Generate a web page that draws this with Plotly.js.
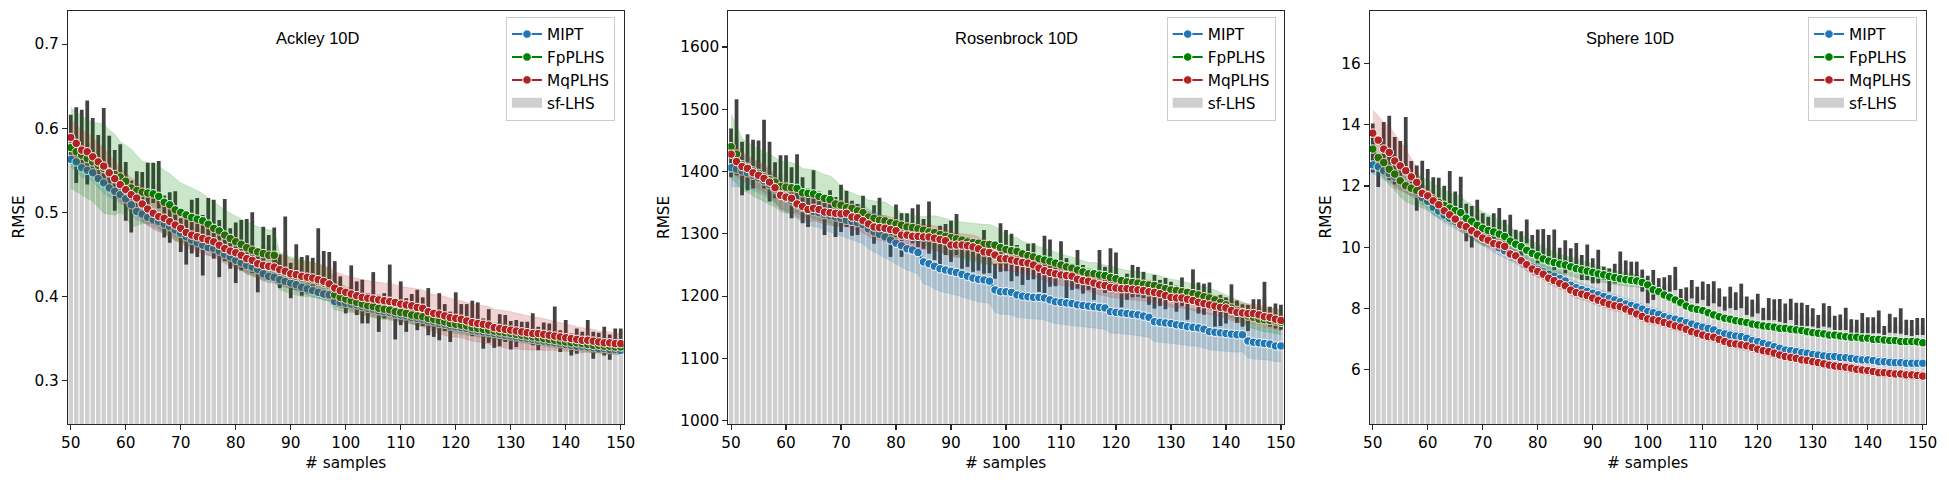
<!DOCTYPE html>
<html>
<head>
<meta charset="utf-8">
<script src="https://cdn.plot.ly/plotly-3.0.1.min.js"></script>
<style>html,body{margin:0;padding:0;background:#fff;}#chart{width:1949px;height:483px;}</style>
</head>
<body>
<div id="chart"></div>
<script>
// ---------------- categories / ticks ----------------
const samples = [50,51,52,53,54,55,56,57,58,59,60,61,62,63,64,65,66,67,68,69,70,71,72,73,74,75,76,77,78,79,80,81,82,83,84,85,86,87,88,89,90,91,92,93,94,95,96,97,98,99,100,101,102,103,104,105,106,107,108,109,110,111,112,113,114,115,116,117,118,119,120,121,122,123,124,125,126,127,128,129,130,131,132,133,134,135,136,137,138,139,140,141,142,143,144,145,146,147,148,149,150];
const xTicks = [50,60,70,80,90,100,110,120,130,140,150];
const ackleyTicks = [0.3,0.4,0.5,0.6,0.7];
const rosenTicks = [1000,1100,1200,1300,1400,1500,1600];
const sphereTicks = [6,8,10,12,14,16];
const panelTitles = ["Ackley 10D","Rosenbrock 10D","Sphere 10D"];
const seriesNames = ["MIPT","FpPLHS","MqPLHS"];
const barName = "sf-LHS";
const xLabel = "# samples";
const yLabel = "RMSE";

// ---------------- Ackley 10D ----------------
const ackLhsMean = [
0.588,0.580,0.590,0.583,0.581,0.567,0.581,0.559,0.538,0.554,
0.525,0.507,0.524,0.531,0.526,0.535,0.533,0.495,0.494,0.500,
0.473,0.470,0.483,0.482,0.461,0.487,0.480,0.457,0.479,0.457,
0.452,0.461,0.468,0.464,0.429,0.461,0.459,0.461,0.430,0.454,
0.419,0.435,0.424,0.426,0.429,0.450,0.436,0.435,0.428,0.407,
0.394,0.416,0.398,0.394,0.386,0.407,0.380,0.389,0.419,0.372,
0.392,0.378,0.388,0.384,0.382,0.382,0.366,0.376,0.375,0.364,
0.383,0.376,0.376,0.374,0.378,0.356,0.365,0.352,0.360,0.362,
0.354,0.356,0.358,0.358,0.361,0.350,0.357,0.355,0.368,0.347,
0.356,0.343,0.347,0.347,0.357,0.342,0.345,0.347,0.340,0.350,0.347];
const ackLhsErr = [
0.028,0.045,0.032,0.050,0.031,0.025,0.043,0.032,0.036,0.027,
0.035,0.031,0.025,0.017,0.033,0.024,0.028,0.025,0.030,0.025,
0.020,0.032,0.032,0.035,0.036,0.030,0.035,0.034,0.037,0.024,
0.036,0.030,0.024,0.036,0.024,0.022,0.014,0.021,0.020,0.041,
0.021,0.027,0.023,0.023,0.017,0.031,0.018,0.018,0.014,0.017,
0.014,0.021,0.020,0.026,0.018,0.022,0.022,0.015,0.019,0.023,
0.026,0.020,0.015,0.024,0.017,0.028,0.014,0.028,0.016,0.018,
0.022,0.015,0.015,0.021,0.015,0.018,0.020,0.013,0.019,0.016,
0.017,0.016,0.012,0.012,0.019,0.014,0.012,0.013,0.020,0.013,
0.016,0.013,0.015,0.011,0.015,0.016,0.012,0.017,0.015,0.012,0.015];
const ackMipt = [
0.563,0.560,0.553,0.550,0.547,0.540,0.535,0.529,0.525,0.521,
0.516,0.509,0.501,0.498,0.494,0.491,0.489,0.486,0.483,0.479,
0.475,0.471,0.467,0.464,0.461,0.458,0.457,0.454,0.450,0.447,
0.443,0.440,0.437,0.435,0.432,0.427,0.424,0.423,0.420,0.418,
0.416,0.414,0.411,0.409,0.407,0.405,0.403,0.402,0.394,0.393,
0.392,0.391,0.390,0.388,0.386,0.385,0.383,0.382,0.381,0.379,
0.378,0.377,0.375,0.374,0.373,0.371,0.370,0.368,0.367,0.365,
0.364,0.363,0.362,0.360,0.359,0.358,0.357,0.356,0.355,0.354,
0.353,0.352,0.351,0.350,0.349,0.348,0.347,0.346,0.345,0.344,
0.343,0.342,0.341,0.341,0.340,0.339,0.338,0.338,0.337,0.337,0.336];
const ackMiptBand = [
0.010,0.011,0.011,0.010,0.010,0.011,0.012,0.011,0.010,0.010,
0.010,0.011,0.010,0.010,0.009,0.009,0.010,0.010,0.009,0.009,
0.009,0.009,0.009,0.008,0.008,0.009,0.009,0.008,0.008,0.008,
0.008,0.008,0.008,0.008,0.008,0.008,0.008,0.007,0.007,0.007,
0.007,0.007,0.007,0.007,0.007,0.007,0.007,0.007,0.006,0.006,
0.006,0.006,0.006,0.006,0.006,0.006,0.006,0.006,0.006,0.006,
0.006,0.006,0.006,0.006,0.006,0.006,0.006,0.006,0.006,0.006,
0.006,0.006,0.006,0.006,0.006,0.005,0.005,0.005,0.005,0.005,
0.005,0.005,0.005,0.005,0.005,0.005,0.005,0.005,0.005,0.005,
0.005,0.005,0.005,0.005,0.005,0.005,0.005,0.005,0.005,0.005,0.005];
const ackFp = [
0.577,0.572,0.568,0.564,0.560,0.556,0.552,0.548,0.545,0.542,
0.537,0.529,0.526,0.524,0.523,0.522,0.519,0.512,0.509,0.503,
0.500,0.497,0.494,0.492,0.490,0.486,0.481,0.478,0.473,0.469,
0.465,0.462,0.458,0.455,0.453,0.451,0.449,0.449,0.430,0.428,
0.425,0.424,0.422,0.421,0.420,0.418,0.416,0.413,0.402,0.399,
0.397,0.395,0.393,0.391,0.389,0.388,0.386,0.385,0.384,0.382,
0.381,0.380,0.378,0.377,0.376,0.374,0.373,0.371,0.370,0.368,
0.367,0.366,0.365,0.363,0.362,0.361,0.360,0.359,0.358,0.357,
0.356,0.355,0.354,0.353,0.352,0.351,0.350,0.349,0.348,0.347,
0.346,0.345,0.345,0.344,0.343,0.342,0.342,0.341,0.341,0.340,0.340];
const ackFpBand = [
0.048,0.047,0.047,0.046,0.047,0.050,0.053,0.050,0.048,0.042,
0.042,0.046,0.042,0.037,0.036,0.036,0.037,0.038,0.037,0.037,
0.035,0.035,0.035,0.034,0.032,0.031,0.031,0.030,0.030,0.030,
0.030,0.030,0.031,0.031,0.030,0.030,0.030,0.030,0.022,0.022,
0.022,0.022,0.022,0.021,0.021,0.020,0.020,0.019,0.018,0.016,
0.015,0.014,0.013,0.013,0.013,0.013,0.013,0.012,0.012,0.012,
0.011,0.011,0.011,0.011,0.011,0.011,0.011,0.011,0.011,0.011,
0.011,0.011,0.011,0.010,0.010,0.010,0.010,0.010,0.010,0.010,
0.009,0.009,0.009,0.009,0.009,0.009,0.009,0.009,0.009,0.009,
0.009,0.009,0.009,0.009,0.009,0.009,0.009,0.009,0.009,0.009,0.009];
const ackMq = [
0.589,0.582,0.574,0.572,0.566,0.560,0.555,0.547,0.540,0.533,
0.527,0.521,0.517,0.510,0.504,0.499,0.495,0.493,0.489,0.485,
0.481,0.476,0.473,0.471,0.469,0.467,0.465,0.461,0.457,0.454,
0.452,0.449,0.445,0.443,0.439,0.437,0.436,0.435,0.432,0.430,
0.427,0.426,0.424,0.423,0.422,0.420,0.418,0.415,0.410,0.407,
0.405,0.403,0.401,0.399,0.398,0.397,0.396,0.395,0.394,0.393,
0.391,0.390,0.389,0.387,0.386,0.382,0.380,0.379,0.377,0.375,
0.374,0.373,0.371,0.369,0.368,0.367,0.366,0.363,0.362,0.361,
0.360,0.359,0.358,0.357,0.356,0.356,0.355,0.354,0.353,0.352,
0.351,0.350,0.349,0.348,0.348,0.347,0.346,0.345,0.345,0.344,0.344];
const ackMqBand = [
0.022,0.022,0.023,0.023,0.022,0.022,0.021,0.021,0.021,0.020,
0.020,0.020,0.020,0.020,0.019,0.019,0.018,0.018,0.018,0.018,
0.018,0.018,0.018,0.018,0.018,0.018,0.018,0.018,0.018,0.018,
0.018,0.018,0.018,0.018,0.018,0.018,0.018,0.018,0.018,0.018,
0.018,0.018,0.018,0.018,0.018,0.019,0.019,0.019,0.020,0.020,
0.020,0.020,0.021,0.021,0.021,0.021,0.021,0.021,0.021,0.021,
0.021,0.021,0.021,0.022,0.022,0.022,0.022,0.023,0.023,0.023,
0.022,0.022,0.022,0.022,0.022,0.022,0.022,0.022,0.022,0.022,
0.022,0.021,0.021,0.020,0.020,0.019,0.019,0.018,0.017,0.017,
0.016,0.016,0.015,0.015,0.014,0.014,0.013,0.013,0.013,0.012,0.012];

// ---------------- Rosenbrock 10D ----------------
const rosLhsMean = [
1430,1455,1405,1415,1412,1418,1428,1400,1386,1395,
1398,1366,1383,1354,1342,1370,1350,1331,1346,1327,
1341,1340,1325,1323,1336,1319,1315,1330,1308,1292,
1321,1298,1314,1313,1313,1300,1310,1283,1280,1291,
1288,1299,1265,1271,1259,1266,1271,1261,1240,1278,
1273,1262,1257,1244,1255,1256,1233,1251,1253,1232,
1257,1229,1231,1243,1227,1227,1218,1250,1226,1249,
1243,1205,1215,1224,1223,1218,1206,1207,1205,1204,
1207,1196,1207,1187,1221,1197,1195,1200,1175,1177,
1177,1197,1175,1169,1165,1180,1179,1198,1167,1168,1166];
const rosLhsErr = [
39,61,43,45,39,32,55,48,29,31,
28,41,45,37,31,32,18,33,24,32,
38,29,28,25,25,16,31,28,21,29,
26,35,19,28,34,24,42,25,33,25,
33,33,21,24,20,25,35,24,12,39,
33,38,25,26,29,29,26,46,38,16,
31,32,21,31,23,17,24,24,21,28,
27,23,21,26,24,21,20,27,21,25,
16,21,23,25,22,25,25,22,24,25,
21,22,18,18,21,15,16,25,16,20,20];
const rosMipt = [
1406,1404,1401,1398,1394,1390,1385,1379,1371,1362,
1357,1353,1346,1342,1338,1336,1334,1331,1329,1327,
1325,1322,1320,1318,1315,1308,1303,1299,1295,1290,
1285,1281,1276,1274,1270,1255,1252,1248,1244,1242,
1240,1238,1235,1232,1229,1227,1226,1224,1210,1207,
1207,1206,1202,1200,1199,1198,1198,1197,1194,1191,
1190,1189,1188,1186,1185,1184,1183,1182,1181,1175,
1174,1173,1172,1171,1170,1168,1166,1159,1158,1157,
1156,1154,1153,1151,1150,1149,1147,1143,1142,1141,
1140,1139,1138,1138,1128,1126,1125,1124,1123,1120,1120];
const rosMiptBand = [
30,28,26,25,24,24,23,23,22,22,
22,22,22,23,23,24,24,25,26,27,
28,28,29,30,31,32,32,33,33,33,
34,34,34,35,35,35,35,36,36,36,
36,36,36,36,36,36,36,36,36,36,
36,36,36,35,35,35,35,35,35,35,
35,35,35,34,34,34,34,34,34,34,
33,33,33,33,33,32,32,32,32,32,
31,31,31,30,30,30,30,29,29,29,
28,28,28,27,27,27,26,26,26,25,25];
const rosFp = [
1440,1428,1411,1407,1401,1397,1392,1387,1383,1376,
1375,1374,1373,1366,1365,1364,1360,1357,1355,1348,
1346,1342,1341,1337,1334,1327,1325,1322,1321,1318,
1316,1314,1311,1310,1308,1306,1303,1302,1299,1296,
1294,1292,1290,1287,1286,1285,1283,1283,1282,1278,
1275,1273,1272,1268,1265,1263,1260,1258,1256,1253,
1250,1247,1245,1242,1239,1236,1236,1234,1233,1230,
1228,1225,1223,1222,1221,1219,1218,1217,1214,1212,
1210,1209,1207,1206,1204,1202,1199,1197,1194,1190,
1186,1181,1177,1174,1168,1166,1163,1162,1161,1160,1158];
const rosFpBand = [
52,46,42,40,40,40,40,40,40,40,
42,40,39,39,39,39,39,38,38,38,
30,26,25,25,26,27,28,29,30,28,
24,20,20,20,20,22,25,27,28,28,
28,28,29,30,30,31,32,32,30,28,
24,22,22,20,20,20,19,19,18,18,
18,18,18,18,18,18,18,18,18,18,
18,18,18,18,18,18,18,18,18,18,
17,17,17,16,16,16,16,16,16,16,
16,16,17,17,18,18,18,19,19,20,20];
const rosMq = [
1428,1416,1408,1405,1398,1394,1389,1383,1374,1362,
1359,1357,1348,1344,1339,1341,1339,1335,1334,1333,
1332,1333,1327,1326,1321,1316,1311,1310,1309,1307,
1305,1298,1298,1296,1296,1295,1295,1293,1291,1289,
1282,1282,1282,1281,1279,1276,1271,1270,1266,1260,
1260,1258,1256,1254,1253,1250,1245,1241,1238,1236,
1234,1233,1232,1227,1225,1224,1221,1218,1217,1214,
1213,1212,1212,1211,1210,1209,1207,1206,1204,1201,
1198,1197,1197,1195,1193,1190,1188,1186,1184,1182,
1181,1177,1174,1173,1172,1172,1170,1167,1166,1163,1161];
const rosMqBand = [
24,23,23,22,22,22,22,22,22,22,
22,21,21,21,21,20,20,20,20,20,
20,20,20,20,20,20,20,20,20,20,
20,20,20,20,20,20,20,20,20,20,
20,19,19,19,19,19,18,18,18,18,
18,18,17,17,17,17,17,17,17,17,
17,17,16,16,16,16,16,16,16,16,
16,16,16,16,16,16,16,16,16,16,
16,16,16,16,16,16,16,16,16,16,
16,16,16,16,16,16,16,16,16,16,16];

// ---------------- Sphere 10D ----------------
const sphLhsMean = [
13.24,12.47,13.22,13.25,12.83,12.74,13.35,12.33,11.93,12.23,
12.04,11.74,11.65,11.49,11.84,11.34,11.72,10.81,10.67,11.05,
10.68,10.55,10.54,10.87,10.46,10.65,10.27,10.11,10.52,10.10,
10.03,10.12,9.94,9.92,9.73,9.69,9.67,9.70,9.34,9.51,
9.23,9.37,9.15,8.93,9.14,9.45,9.25,9.23,9.15,8.91,
8.62,8.77,8.73,8.76,8.82,8.98,8.43,8.44,8.63,8.44,
8.58,8.44,8.53,8.36,8.16,8.36,8.24,8.41,8.09,8.01,
8.16,7.82,7.98,7.96,7.94,7.84,7.97,7.81,7.81,7.77,
7.71,7.57,7.79,7.73,7.53,7.55,7.66,7.42,7.41,7.52,
7.45,7.45,7.56,7.28,7.52,7.45,7.59,7.38,7.36,7.41,7.41];
const sphLhsErr = [
0.80,0.50,0.87,1.05,0.77,0.73,0.91,0.49,0.74,0.60,
0.52,0.55,0.62,0.52,0.65,0.48,0.58,0.61,0.68,0.50,
0.43,0.45,0.57,0.41,0.44,0.41,0.30,0.41,0.39,0.30,
0.55,0.48,0.46,0.66,0.25,0.54,0.30,0.44,0.41,0.58,
0.41,0.55,0.22,0.38,0.32,0.41,0.32,0.30,0.38,0.36,
0.45,0.49,0.26,0.26,0.27,0.38,0.21,0.25,0.30,0.27,
0.30,0.36,0.36,0.30,0.23,0.35,0.29,0.40,0.30,0.28,
0.32,0.20,0.36,0.34,0.37,0.32,0.35,0.38,0.38,0.34,
0.30,0.22,0.38,0.35,0.23,0.25,0.36,0.23,0.22,0.33,
0.26,0.26,0.37,0.15,0.31,0.26,0.42,0.25,0.26,0.28,0.28];
const sphMipt = [
12.69,12.63,12.50,12.41,12.30,12.18,12.05,11.92,11.78,11.62,
11.50,11.30,11.18,11.05,10.95,10.85,10.75,10.62,10.52,10.40,
10.30,10.20,10.08,9.98,9.88,9.78,9.70,9.58,9.46,9.35,
9.27,9.20,9.12,9.05,8.98,8.90,8.76,8.68,8.62,8.56,
8.50,8.45,8.39,8.33,8.28,8.22,8.15,8.10,8.05,7.98,
7.90,7.86,7.81,7.73,7.68,7.65,7.60,7.54,7.49,7.43,
7.39,7.35,7.30,7.21,7.17,7.13,7.10,7.08,7.03,6.95,
6.92,6.86,6.81,6.75,6.70,6.64,6.62,6.59,6.56,6.54,
6.50,6.48,6.45,6.43,6.43,6.40,6.39,6.37,6.34,6.32,
6.32,6.30,6.26,6.26,6.24,6.23,6.23,6.21,6.21,6.21,6.21];
const sphMiptBand = [
0.30,0.29,0.28,0.28,0.27,0.27,0.26,0.26,0.26,0.25,
0.25,0.25,0.25,0.25,0.25,0.25,0.25,0.25,0.25,0.25,
0.25,0.25,0.24,0.24,0.24,0.23,0.23,0.23,0.22,0.22,
0.22,0.22,0.21,0.21,0.21,0.20,0.20,0.20,0.20,0.20,
0.20,0.20,0.19,0.19,0.19,0.18,0.18,0.18,0.18,0.17,
0.17,0.17,0.17,0.16,0.16,0.16,0.16,0.16,0.15,0.15,
0.15,0.15,0.15,0.15,0.15,0.15,0.15,0.15,0.15,0.15,
0.15,0.15,0.15,0.14,0.14,0.14,0.14,0.14,0.14,0.14,
0.14,0.14,0.14,0.14,0.14,0.14,0.14,0.14,0.14,0.14,
0.14,0.14,0.14,0.14,0.14,0.14,0.14,0.14,0.14,0.14,0.14];
const sphFp = [
13.21,12.93,12.77,12.55,12.39,12.17,12.01,11.93,11.85,11.78,
11.70,11.58,11.47,11.37,11.28,11.20,11.13,10.95,10.85,10.72,
10.62,10.55,10.50,10.43,10.35,10.20,10.10,10.02,9.90,9.80,
9.72,9.62,9.55,9.50,9.45,9.42,9.36,9.30,9.26,9.22,
9.18,9.13,9.10,9.05,9.01,8.97,8.94,8.92,8.90,8.85,
8.77,8.61,8.55,8.44,8.37,8.28,8.19,8.08,8.01,7.97,
7.93,7.86,7.79,7.73,7.68,7.65,7.60,7.57,7.54,7.49,
7.46,7.43,7.41,7.39,7.35,7.35,7.32,7.30,7.28,7.24,
7.21,7.19,7.17,7.13,7.13,7.10,7.08,7.06,7.06,7.03,
7.03,6.99,6.99,6.97,6.95,6.95,6.92,6.92,6.92,6.91,6.88];
const sphFpBand = [
0.45,0.48,0.50,0.52,0.52,0.52,0.52,0.52,0.50,0.50,
0.50,0.50,0.50,0.50,0.50,0.52,0.54,0.55,0.55,0.55,
0.55,0.52,0.50,0.48,0.46,0.44,0.42,0.40,0.40,0.40,
0.40,0.38,0.36,0.34,0.32,0.30,0.30,0.30,0.30,0.30,
0.28,0.26,0.25,0.24,0.23,0.22,0.22,0.21,0.20,0.18,
0.17,0.16,0.15,0.15,0.14,0.14,0.14,0.13,0.13,0.13,
0.12,0.12,0.12,0.12,0.12,0.12,0.12,0.12,0.12,0.12,
0.12,0.12,0.12,0.12,0.12,0.12,0.12,0.12,0.12,0.12,
0.11,0.11,0.11,0.11,0.11,0.11,0.11,0.11,0.11,0.11,
0.11,0.11,0.11,0.11,0.11,0.11,0.11,0.11,0.11,0.11,0.11];
const sphMq = [
13.73,13.50,13.21,13.10,12.82,12.66,12.50,12.30,12.12,11.76,
11.68,11.52,11.39,11.19,11.06,10.92,10.73,10.67,10.54,10.43,
10.30,10.23,10.12,10.08,10.03,9.78,9.72,9.56,9.43,9.29,
9.21,9.12,8.99,8.91,8.82,8.74,8.60,8.52,8.47,8.42,
8.34,8.27,8.20,8.14,8.09,8.06,7.98,7.90,7.82,7.74,
7.66,7.63,7.60,7.54,7.49,7.43,7.39,7.32,7.24,7.19,
7.13,7.08,7.06,6.99,6.92,6.86,6.84,6.81,6.78,6.73,
6.67,6.62,6.59,6.54,6.48,6.43,6.40,6.37,6.32,6.30,
6.26,6.23,6.19,6.15,6.12,6.10,6.08,6.05,6.01,5.99,
5.97,5.94,5.90,5.90,5.88,5.86,5.86,5.83,5.83,5.81,5.79];
const sphMqBand = [
0.75,0.80,0.85,0.85,0.88,0.80,0.70,0.60,0.50,0.30,
0.25,0.24,0.23,0.22,0.22,0.22,0.22,0.22,0.22,0.22,
0.22,0.21,0.21,0.20,0.20,0.20,0.19,0.19,0.19,0.18,
0.18,0.18,0.18,0.18,0.18,0.18,0.18,0.18,0.18,0.18,
0.18,0.18,0.17,0.17,0.17,0.17,0.16,0.16,0.16,0.16,
0.16,0.16,0.15,0.15,0.15,0.15,0.15,0.15,0.15,0.15,
0.15,0.15,0.15,0.15,0.15,0.15,0.15,0.15,0.15,0.15,
0.14,0.14,0.14,0.14,0.14,0.14,0.14,0.14,0.14,0.14,
0.14,0.14,0.14,0.14,0.14,0.14,0.14,0.14,0.14,0.14,
0.14,0.14,0.14,0.14,0.14,0.14,0.14,0.14,0.14,0.14,0.14];

// ---------------- styling ----------------
const lineColors = ["#1f77b4", "#008000", "#b22222"];
const bandRGB = ["31,119,180", "0,128,0", "178,34,34"];
const barColor = "#cfcfcf";
const errColor = "#424242";
const tickFamily = "DejaVu Sans, Verdana, sans-serif";
const titleFamily = "Liberation Sans, Arial, sans-serif";
const FS = 15.3;
const W = 1949, H = 483;

const panels = [
  {lhsMean: ackLhsMean, lhsErr: ackLhsErr, means: [ackMipt, ackFp, ackMq], bands: [ackMiptBand, ackFpBand, ackMqBand],
   yRange: [0.2485, 0.7393], yTicks: ackleyTicks, xDom: [0.034890, 0.319908], legX: 0.315547, titleX: 0.163160, yLabX: 19},
  {lhsMean: rosLhsMean, lhsErr: rosLhsErr, means: [rosMipt, rosFp, rosMq], bands: [rosMiptBand, rosFpBand, rosMqBand],
   yRange: [994.7, 1657.8], yTicks: rosenTicks, xDom: [0.373679, 0.658645], legX: 0.654541, titleX: 0.521293, yLabX: 664.5},
  {lhsMean: sphLhsMean, lhsErr: sphLhsErr, means: [sphMipt, sphFp, sphMq], bands: [sphMiptBand, sphFpBand, sphMqBand],
   yRange: [4.225, 17.72], yTicks: sphereTicks, xDom: [0.702925, 0.987943], legX: 0.983581, titleX: 0.836172, yLabX: 1326}
];
const yDom = [0.122153, 0.977226];

const traces = [];
const layout = {
  width: W, height: H, autosize: false,
  margin: {l: 0, r: 0, t: 0, b: 0, pad: 0},
  paper_bgcolor: "#ffffff", plot_bgcolor: "#ffffff",
  showlegend: true, hovermode: false,
  font: {family: tickFamily, size: FS, color: "#000"},
  annotations: []
};

panels.forEach((p, k) => {
  const n = k === 0 ? "" : String(k + 1);
  const xa = "x" + n, ya = "y" + n;
  const legId = "legend" + n;

  traces.push({
    type: "bar", x: samples, y: p.lhsMean, width: 0.8, name: barName,
    xaxis: xa, yaxis: ya, legend: legId, showlegend: false,
    marker: {color: barColor, line: {width: 0}},
    error_y: {type: "data", array: p.lhsErr, visible: true, thickness: 3.75, width: 0, color: errColor}
  });

  for (let s = 0; s < 3; s++) {
    const m = p.means[s], b = p.bands[s];
    const lo = m.map((v, i) => v - b[i]);
    const hi = m.map((v, i) => v + b[i]);
    traces.push({
      type: "scatter", mode: "lines", x: samples, y: lo, xaxis: xa, yaxis: ya, legend: legId,
      showlegend: false, line: {width: 0.6, color: "rgba(" + bandRGB[s] + ",0.25)"}, hoverinfo: "skip"
    });
    traces.push({
      type: "scatter", mode: "lines", x: samples, y: hi, xaxis: xa, yaxis: ya, legend: legId,
      showlegend: false, fill: "tonexty", fillcolor: "rgba(" + bandRGB[s] + ",0.2)",
      line: {width: 0.6, color: "rgba(" + bandRGB[s] + ",0.25)"}, hoverinfo: "skip"
    });
    traces.push({
      type: "scatter", mode: "lines+markers", x: samples, y: m, name: seriesNames[s],
      xaxis: xa, yaxis: ya, legend: legId, showlegend: true,
      line: {color: lineColors[s], width: 2},
      marker: {color: lineColors[s], size: 8.5, line: {color: "#ffffff", width: 1}}
    });
  }
  // legend swatch for the bar series (wide patch like the reference)
  traces.push({
    type: "scatter", mode: "lines", x: [null], y: [null], name: barName,
    xaxis: xa, yaxis: ya, legend: legId, showlegend: true,
    line: {color: barColor, width: 10}
  });

  const axCommon = {
    showline: true, mirror: true, linecolor: "#262626", linewidth: 1.1,
    ticks: "outside", ticklen: 5, tickwidth: 1.1, tickcolor: "#262626",
    showgrid: false, zeroline: false,
    tickfont: {family: tickFamily, size: FS, color: "#000"}
  };
  layout["xaxis" + n] = Object.assign({}, axCommon, {
    domain: p.xDom, anchor: ya, range: [49.5, 150.5], tickmode: "array", tickvals: xTicks
  });
  layout["yaxis" + n] = Object.assign({}, axCommon, {
    domain: yDom, anchor: xa, range: p.yRange, tickmode: "array", tickvals: p.yTicks
  });
  layout[legId] = {
    x: p.legX, y: 0.9655, xanchor: "right", yanchor: "top",
    bgcolor: "rgba(255,255,255,0.8)", bordercolor: "#cccccc", borderwidth: 1,
    font: {family: tickFamily, size: FS, color: "#000"}, traceorder: "normal"
  };
  // panel title (inside the axes)
  layout.annotations.push({
    text: panelTitles[k], xref: "paper", yref: "paper", x: p.titleX, y: 0.920290,
    xanchor: "center", yanchor: "middle", showarrow: false,
    font: {family: titleFamily, size: 16.5, color: "#000"}
  });
  // axis labels
  layout.annotations.push({
    text: xLabel, xref: "paper", yref: "paper", x: (p.xDom[0] + p.xDom[1]) / 2, y: 1 - 463 / H,
    xanchor: "center", yanchor: "middle", showarrow: false,
    font: {family: tickFamily, size: FS, color: "#000"}
  });
  layout.annotations.push({
    text: yLabel, xref: "paper", yref: "paper", x: p.yLabX / W, y: (yDom[0] + yDom[1]) / 2,
    xanchor: "center", yanchor: "middle", textangle: -90, showarrow: false,
    font: {family: tickFamily, size: FS, color: "#000"}
  });
});

Plotly.newPlot("chart", traces, layout, {displayModeBar: false, staticPlot: true});
</script>
</body>
</html>
